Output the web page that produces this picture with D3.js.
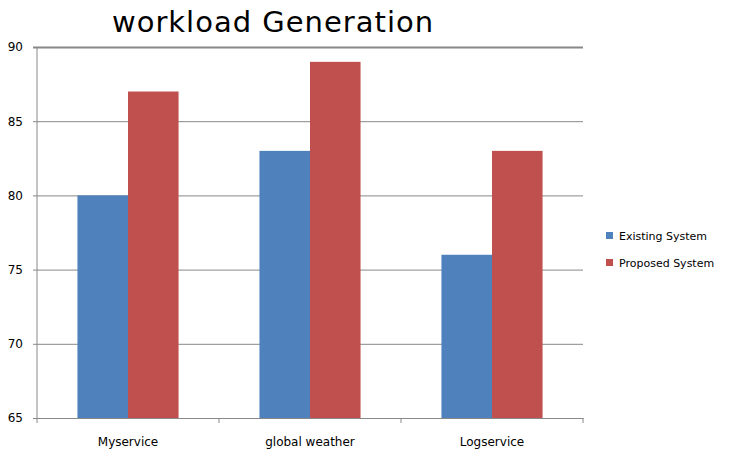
<!DOCTYPE html>
<html>
<head>
  <script src="https://cdn.jsdelivr.net/npm/d3@7"></script>
  <style>
    body { margin: 0; background: #fff; }
    text { font-family: "DejaVu Sans", sans-serif; }
  </style>
</head>
<body>
  <svg width="731" height="460" id="chart"></svg>
  <script>
    // chart data
    const categories = ['Myservice', 'global weather', 'Logservice'];
    const seriesNames = ['Existing System', 'Proposed System'];
    const existing = [80, 83, 76];
    const proposed = [87, 89, 83];
    const yTicks = [65, 70, 75, 80, 85, 90];
    const colors = ['#4F81BD', '#C0504D'];

    const svg = d3.select('#chart');
    const margin = { top: 47, right: 148, bottom: 42, left: 37 };
    const innerWidth = 731 - margin.left - margin.right;
    const innerHeight = 460 - margin.top - margin.bottom;
    const g = svg.append('g').attr('transform', `translate(${margin.left}, ${margin.top})`);

    const data = categories.map((c, i) => ({ cat: c, vals: [existing[i], proposed[i]] }));

    const xScale = d3.scaleBand().domain(categories).range([0, innerWidth]);
    const xInner = d3.scaleBand().domain([0, 1]).range([0, xScale.bandwidth()]).paddingOuter(0.8);
    const yScale = d3.scaleLinear().domain([65, 90]).range([innerHeight, 0]);

    // y axis with gridlines
    const yAxis = d3.axisLeft(yScale).tickValues(yTicks).tickSize(-innerWidth).tickPadding(14);
    const yg = g.append('g').call(yAxis);
    yg.select('.domain').remove();
    yg.selectAll('.tick line').attr('stroke', '#888').attr('x1', -4);
    yg.selectAll('.tick').filter(d => d === 90).select('line').attr('stroke-width', 2);
    yg.selectAll('.tick text').attr('font-size', 12).attr('fill', '#000');
    g.append('line').attr('x1', 0).attr('x2', 0).attr('y1', 0).attr('y2', innerHeight)
      .attr('stroke', '#888');

    // bars
    g.selectAll('.grp').data(data).join('g')
      .attr('class', 'grp')
      .attr('transform', d => `translate(${xScale(d.cat)},0)`)
      .selectAll('rect').data(d => d.vals).join('rect')
      .attr('x', (d, i) => xInner(i))
      .attr('width', xInner.bandwidth())
      .attr('y', d => yScale(d))
      .attr('height', d => innerHeight - yScale(d))
      .attr('fill', (d, i) => colors[i]);

    // x axis
    const xAxis = d3.axisBottom(xScale).tickSize(0).tickPadding(19);
    const xg = g.append('g').attr('transform', `translate(0, ${innerHeight})`).call(xAxis);
    xg.select('.domain').attr('stroke', '#888');
    xg.selectAll('.tick text').attr('font-size', 12).attr('fill', '#000');
    xg.selectAll('.sep').data(d3.range(categories.length + 1)).join('line')
      .attr('class', 'sep')
      .attr('x1', i => i * xScale.bandwidth()).attr('x2', i => i * xScale.bandwidth())
      .attr('y1', 0).attr('y2', 5).attr('stroke', '#888');

    // title
    svg.append('text').attr('x', 273).attr('y', 32)
      .attr('text-anchor', 'middle').attr('font-size', 29).attr('letter-spacing', 1)
      .attr('fill', '#000')
      .text('workload Generation');

    // legend
    const lg = svg.append('g').attr('transform', 'translate(606, 232)');
    lg.selectAll('rect').data(seriesNames).join('rect')
      .attr('y', (d, i) => i * 27).attr('width', 7).attr('height', 7)
      .attr('fill', (d, i) => colors[i]);
    lg.selectAll('text').data(seriesNames).join('text')
      .attr('x', 13).attr('y', (d, i) => i * 27 + 8)
      .attr('font-size', 11).attr('fill', '#000')
      .text(d => d);
  </script>
</body>
</html>
